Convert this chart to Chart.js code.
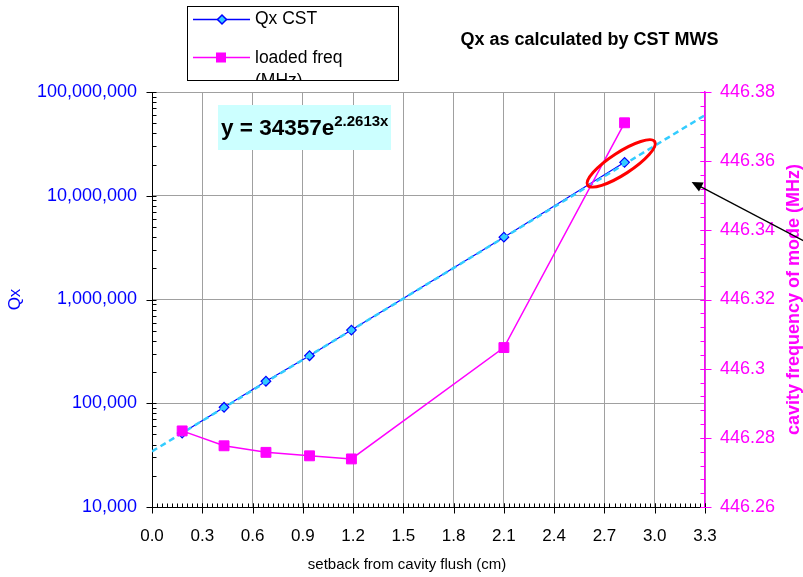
<!DOCTYPE html>
<html>
<head>
<meta charset="utf-8">
<script src="https://cdn.jsdelivr.net/npm/chart.js@4.4.1/dist/chart.umd.min.js"></script>
<style>
  html, body { margin: 0; padding: 0; background: #fff; }
  canvas { display: block; }
</style>
</head>
<body>
<canvas id="chart" width="803" height="577"></canvas>
<script>
// data
const setback = [0.18, 0.43, 0.68, 0.94, 1.19, 2.1, 2.82];
const qxCst = [51600, 91500, 163000, 287000, 507000, 3990000, 21000000];
const loadedFreq = [446.282, 446.2777, 446.2758, 446.2748, 446.2739, 446.3061, 446.3711];
// exponential trendline y = 34357e^2.2613x, straight on the log axis
const trendSetback = [0, 3.3];
const trendQx = [34357, 59800000];

const xTicks = [0, 0.3, 0.6, 0.9, 1.2, 1.5, 1.8, 2.1, 2.4, 2.7, 3.0, 3.3];
const qxTicks = [10000, 100000, 1000000, 10000000, 100000000];
const freqTicks = [446.26, 446.28, 446.3, 446.32, 446.34, 446.36, 446.38];

// annotation anchors, in data units
const ellipseAt = [2.8, 20500000];
const arrowTip = [3.22, 13600000];
const arrowTail = [3.92, 3450000];

const BLUE = "#0000FF";
const PINK = "#FF00FF";
const CYAN = "#33CCFF";
const GRID = "#A0A0A0";
const FONT = "'Liberation Sans', Arial, sans-serif";

function toPoints(xs, ys) {
  return xs.map((v, i) => ({ x: v, y: ys[i] }));
}

function tickLine(ctx, x1, y1, x2, y2) {
  ctx.beginPath();
  ctx.moveTo(x1, y1);
  ctx.lineTo(x2, y2);
  ctx.stroke();
}

const decorations = {
  id: "decorations",
  afterDatasetsDraw(chart) {
    const { ctx, scales: { x, y } } = chart;

    // red ellipse round the last Qx point
    ctx.save();
    ctx.strokeStyle = "#FF0000";
    ctx.lineWidth = 3;
    ctx.beginPath();
    ctx.ellipse(x.getPixelForValue(ellipseAt[0]), y.getPixelForValue(ellipseAt[1]),
      40, 11, -33 * Math.PI / 180, 0, Math.PI * 2);
    ctx.stroke();
    ctx.restore();
  },
  afterDraw(chart) {
    const { ctx, chartArea: area, scales: { x, y, y1 } } = chart;
    ctx.save();

    // tick marks: major ones cross outward, minor ones sit inside
    ctx.lineWidth = 1;
    ctx.strokeStyle = "#000";
    const xb = Math.round(area.bottom) + 0.5;
    xTicks.forEach(v => {
      const px = Math.round(x.getPixelForValue(v)) + 0.5;
      tickLine(ctx, px, xb - 4, px, xb + 6);
    });
    for (let i = 0; i <= 110; i++) {
      const px = Math.round(x.getPixelForValue(i * 0.03)) + 0.5;
      tickLine(ctx, px, xb - 4, px, xb);
    }
    const yl = Math.round(area.left) + 0.5;
    qxTicks.forEach((d, i) => {
      const py = Math.round(y.getPixelForValue(d)) + 0.5;
      tickLine(ctx, yl - 6, py, yl + 4, py);
      if (i < qxTicks.length - 1) {
        for (let k = 2; k <= 9; k++) {
          const pm = Math.round(y.getPixelForValue(d * k)) + 0.5;
          tickLine(ctx, yl, pm, yl + 4, pm);
        }
      }
    });
    ctx.strokeStyle = PINK;
    const yr = Math.round(area.right) + 0.5;
    freqTicks.forEach(v => {
      const py = Math.round(y1.getPixelForValue(v)) + 0.5;
      tickLine(ctx, yr - 5, py, yr + 6, py);
    });
    for (let i = 0; i <= 30; i++) {
      const py = Math.round(y1.getPixelForValue(446.26 + i * 0.004)) + 0.5;
      tickLine(ctx, yr - 5, py, yr, py);
    }

    // axis titles
    ctx.textAlign = "center";
    ctx.textBaseline = "middle";
    ctx.fillStyle = "#000";
    ctx.font = "15px " + FONT;
    ctx.fillText("setback from cavity flush (cm)", 407, 565);

    ctx.save();
    ctx.translate(15, (area.top + area.bottom) / 2);
    ctx.rotate(-Math.PI / 2);
    ctx.fillStyle = BLUE;
    ctx.font = "17px " + FONT;
    ctx.fillText("Qx", 0, 0);
    ctx.restore();

    ctx.save();
    ctx.translate(794, (area.top + area.bottom) / 2);
    ctx.rotate(-Math.PI / 2);
    ctx.fillStyle = PINK;
    ctx.font = "bold 18px " + FONT;
    ctx.fillText("cavity frequency of mode (MHz)", 0, 0);
    ctx.restore();

    // chart title
    ctx.fillStyle = "#000";
    ctx.font = "bold 18px " + FONT;
    ctx.fillText("Qx as calculated by CST MWS", 589.5, 40);

    // trendline label
    ctx.fillStyle = "#CCFFFF";
    ctx.fillRect(218, 105, 173, 45);
    ctx.fillStyle = "#000";
    ctx.textAlign = "left";
    ctx.textBaseline = "alphabetic";
    ctx.font = "bold 22.5px " + FONT;
    const main = "y = 34357e";
    ctx.fillText(main, 221, 135);
    const w = ctx.measureText(main).width;
    ctx.font = "bold 15px " + FONT;
    ctx.fillText("2.2613x", 221 + w, 126);

    // legend
    ctx.fillStyle = "#fff";
    ctx.fillRect(187.5, 6.5, 211, 74);
    ctx.strokeStyle = "#000";
    ctx.lineWidth = 1;
    ctx.strokeRect(187.5, 6.5, 211, 74);
    ctx.save();
    ctx.beginPath();
    ctx.rect(188, 7, 210, 73);
    ctx.clip();
    ctx.lineWidth = 1.5;
    ctx.strokeStyle = BLUE;
    tickLine(ctx, 193, 19.5, 250, 19.5);
    ctx.beginPath();
    ctx.moveTo(222, 15);
    ctx.lineTo(226.5, 19.5);
    ctx.lineTo(222, 24);
    ctx.lineTo(217.5, 19.5);
    ctx.closePath();
    ctx.fillStyle = CYAN;
    ctx.fill();
    ctx.stroke();
    ctx.strokeStyle = PINK;
    tickLine(ctx, 193, 57.5, 250, 57.5);
    ctx.fillStyle = PINK;
    ctx.fillRect(216, 52.5, 10, 10);
    ctx.fillStyle = "#000";
    ctx.font = "17.5px " + FONT;
    ctx.textBaseline = "middle";
    ctx.fillText("Qx CST", 255, 19.5);
    ctx.fillText("loaded freq", 255, 58);
    ctx.fillText("(MHz)", 255, 81);
    ctx.restore();

    // arrow pointing at the right axis
    const tx = x.getPixelForValue(arrowTip[0]), ty = y.getPixelForValue(arrowTip[1]);
    const sx = x.getPixelForValue(arrowTail[0]), sy = y.getPixelForValue(arrowTail[1]);
    const ang = Math.atan2(ty - sy, tx - sx);
    ctx.strokeStyle = "#000";
    ctx.fillStyle = "#000";
    ctx.lineWidth = 1.3;
    tickLine(ctx, sx, sy, tx - 9 * Math.cos(ang), ty - 9 * Math.sin(ang));
    ctx.beginPath();
    ctx.moveTo(tx, ty);
    ctx.lineTo(tx - 11 * Math.cos(ang) + 5 * Math.sin(ang), ty - 11 * Math.sin(ang) - 5 * Math.cos(ang));
    ctx.lineTo(tx - 11 * Math.cos(ang) - 5 * Math.sin(ang), ty - 11 * Math.sin(ang) + 5 * Math.cos(ang));
    ctx.closePath();
    ctx.fill();

    ctx.restore();
  }
};

new Chart(document.getElementById("chart"), {
  type: "line",
  data: {
    datasets: [
      {
        label: "loaded freq (MHz)",
        data: toPoints(setback, loadedFreq),
        yAxisID: "y1",
        borderColor: PINK,
        backgroundColor: PINK,
        borderWidth: 1.5,
        pointStyle: "rect",
        pointRadius: 7,
        pointBorderWidth: 1,
        order: 0
      },
      {
        label: "trend",
        data: toPoints(trendSetback, trendQx),
        yAxisID: "y",
        borderColor: CYAN,
        borderWidth: 2.5,
        borderDash: [6, 4],
        pointRadius: 0,
        order: 1
      },
      {
        label: "Qx CST",
        data: toPoints(setback, qxCst),
        yAxisID: "y",
        borderColor: BLUE,
        backgroundColor: CYAN,
        borderWidth: 1.2,
        pointStyle: "rectRot",
        pointRadius: 4.8,
        pointBorderColor: BLUE,
        pointBorderWidth: 1.2,
        order: 2
      }
    ]
  },
  options: {
    responsive: false,
    animation: false,
    devicePixelRatio: 1,
    layout: { padding: { top: 92, left: 0, right: 0, bottom: 0 } },
    plugins: {
      legend: { display: false },
      title: { display: false },
      tooltip: { enabled: false }
    },
    scales: {
      x: {
        type: "linear",
        min: 0,
        max: 3.3,
        afterBuildTicks: s => { s.ticks = xTicks.map(v => ({ value: v })); },
        afterFit: s => { s.height = 70; },
        grid: { color: GRID, drawTicks: false },
        border: { color: "#000", width: 1 },
        ticks: {
          autoSkip: false,
          maxRotation: 0,
          padding: 19,
          color: "#000",
          font: { family: FONT, size: 17 },
          callback: v => Number(v).toFixed(1)
        }
      },
      y: {
        type: "logarithmic",
        position: "left",
        min: 10000,
        max: 100000000,
        afterBuildTicks: s => { s.ticks = qxTicks.map(v => ({ value: v, major: true })); },
        afterFit: s => { s.width = 152; },
        grid: { color: GRID, drawTicks: false },
        border: { color: "#000", width: 1 },
        ticks: {
          autoSkip: false,
          padding: 15,
          color: BLUE,
          font: { family: FONT, size: 18 },
          callback: v => Number(v).toLocaleString("en-US")
        }
      },
      y1: {
        type: "linear",
        position: "right",
        min: 446.26,
        max: 446.38,
        afterBuildTicks: s => { s.ticks = freqTicks.map(v => ({ value: v })); },
        afterFit: s => { s.width = 98; },
        grid: { drawOnChartArea: false, drawTicks: false },
        border: { color: PINK, width: 1.5 },
        ticks: {
          autoSkip: false,
          padding: 15,
          color: PINK,
          font: { family: FONT, size: 18 },
          callback: v => String(parseFloat(Number(v).toFixed(2)))
        }
      }
    }
  },
  plugins: [decorations]
});
</script>
</body>
</html>
